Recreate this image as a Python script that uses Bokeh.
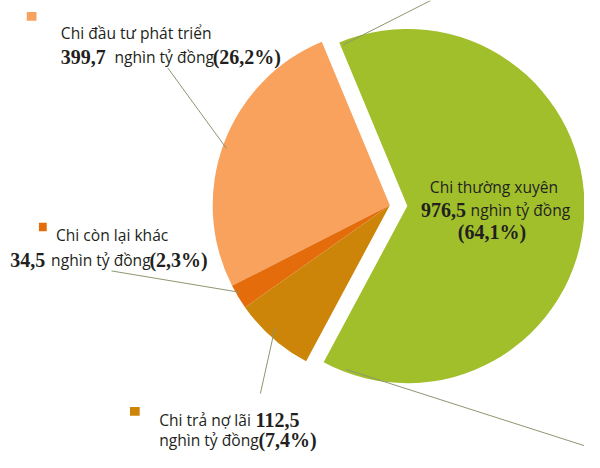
from bokeh.plotting import figure
from bokeh.models import Range1d, ColumnDataSource
from bokeh.core.properties import value
from bokeh.embed import file_html
from bokeh.resources import INLINE
import math

# ---- data ----
categories = ["Chi thường xuyên", "Chi đầu tư phát triển", "Chi còn lại khác", "Chi trả nợ lãi"]
values = [976.5, 399.7, 34.5, 112.5]          # nghìn tỷ đồng
unit = "nghìn tỷ đồng"
colors = ["#A0BF2B", "#F9A25E", "#E46C0B", "#CC8508"]

total = sum(values)
percents = [v / total * 100 for v in values]

def vn(x):
    return f"{x:.1f}".replace(".", ",")

# ---- layout (reference pixel coordinates, y measured from top) ----
W, H = 584, 452
def Y(y):
    return 468 - y

p = figure(width=W, height=H, output_backend="svg", toolbar_location=None,
           x_range=Range1d(0, 600), y_range=Range1d(0, 468),
           min_border=0, outline_line_color=None)
p.axis.visible = False
p.grid.visible = False
p.background_fill_color = "white"
p.border_fill_color = "white"

# pie geometry
cx, cy = 400, 212
R = 182
start_deg = -118.2
explode = 18

starts, ends = [], []
a = start_deg
for v in values:
    span = v / total * 360
    starts.append(math.radians(a))
    ends.append(math.radians(a + span))
    a += span

xs, ys = [], []
for i in range(len(values)):
    if i == 0:
        mid = (starts[i] + ends[i]) / 2
        xs.append(cx + explode * math.cos(mid))
        ys.append(Y(cy) + explode * math.sin(mid))
    else:
        xs.append(cx)
        ys.append(Y(cy))

src = ColumnDataSource(dict(x=xs, y=ys, start=starts, end=ends, color=colors))
p.wedge(x="x", y="y", radius=R, start_angle="start", end_angle="end",
        fill_color="color", line_color=None, source=src)

# leader lines
line_col = "#8E9670"
lx0 = [172, 114, 267, 352, 355]
ly0 = [70, 280, 407, 46, 382]
lx1 = [232, 245, 282, 442, 600]
ly1 = [153, 302, 339, 0, 461]
p.segment(x0=lx0, y0=[Y(v) for v in ly0], x1=lx1, y1=[Y(v) for v in ly1],
          line_color=line_col, line_width=1)

# legend squares
sq_x = [32, 43.5, 138]
sq_y = [16.5, 234.5, 425.5]
sq_w = [10, 8, 10]
sq_h = [9, 9, 9]
p.rect(x=sq_x, y=[Y(v) for v in sq_y], width=sq_w, height=sq_h,
       fill_color=colors[1:], line_color=None)

sans = value("Open Sans")
serif = value("Liberation Serif")
txt_col = "#231F20"
SANS_SIZE = "15.6px"
SERIF_SIZE = "20px"

def sans_text(x, y, t, align="left"):
    p.text(x=[x], y=[Y(y)], text=[t], text_font=sans, text_font_size=SANS_SIZE,
           text_color=txt_col, text_align=align, text_baseline="alphabetic")

def serif_text(x, y, t, align="left"):
    p.text(x=[x], y=[Y(y)], text=[t], text_font=serif, text_font_size=SERIF_SIZE,
           text_font_style="bold", text_color=txt_col, text_align=align, text_baseline="alphabetic")

# Chi đầu tư phát triển
sans_text(62, 33.5, categories[1])
serif_text(62, 58, vn(values[1]))
sans_text(117, 58, unit)
serif_text(218, 58, f"({vn(percents[1])}%)")

# Chi còn lại khác
sans_text(57, 243, categories[2])
serif_text(10, 269, vn(values[2]))
sans_text(52, 269, unit)
serif_text(153, 269, f"({vn(percents[2])}%)")

# Chi trả nợ lãi
sans_text(163, 434, categories[3])
serif_text(262, 434, vn(values[3]))
sans_text(163, 455, unit)
serif_text(265, 455, f"({vn(percents[3])}%)")

# Chi thường xuyên
sans_text(507, 193, categories[0], align="center")
serif_text(432, 217, vn(values[0]))
sans_text(483, 217, unit)
serif_text(505, 240, f"({vn(percents[0])}%)", align="center")

open("out.html", "w").write(file_html(p, INLINE))
